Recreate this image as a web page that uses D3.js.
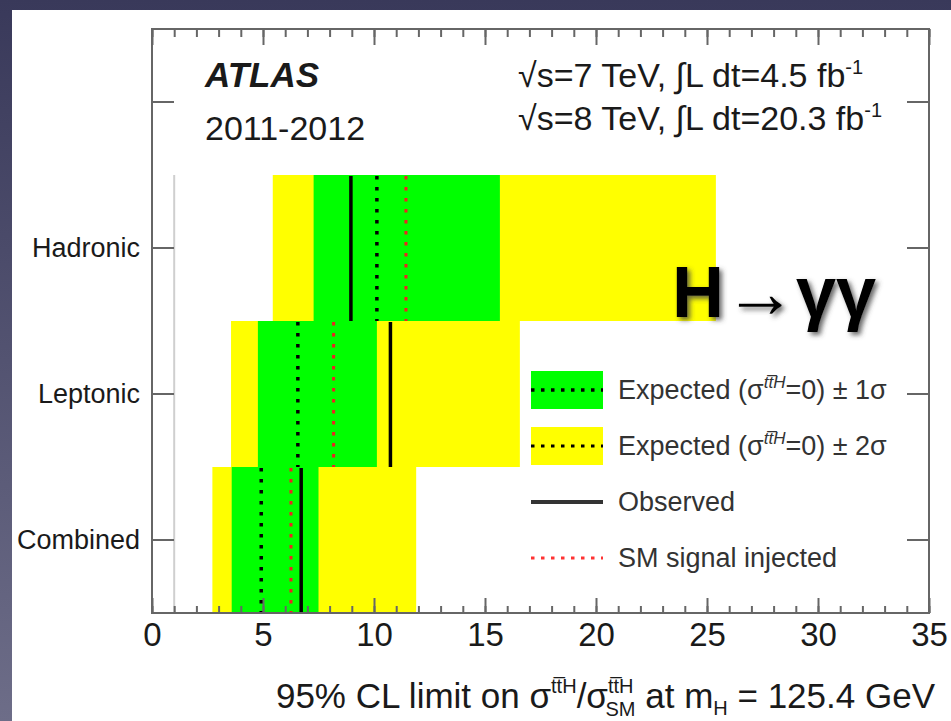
<!DOCTYPE html>
<meta charset="utf-8">
<style>
body { margin: 0; }
text { font-family: "Liberation Sans", Arial, Helvetica, sans-serif; fill: #1a1a1a; }
.frame { fill: none; stroke: #666; stroke-width: 2; }
.axis path { stroke: none; }
.axis line { stroke: #666; stroke-width: 2; }
.axis text { font-family: "Liberation Sans", Arial, sans-serif; fill: #1a1a1a; }
</style>
<script src="https://cdn.jsdelivr.net/npm/d3@7"></script>
<body>
<script>

// values
var categories = ["Hadronic", "Leptonic", "Combined"];
var observed   = [8.96, 10.74, 6.72];
var expected   = [10.13, 6.57, 4.92];
var smInjected = [11.44, 8.18, 6.26];
var minus2     = [5.44, 3.56, 2.72];
var minus1     = [7.28, 4.77, 3.59];
var plus1      = [15.67, 10.13, 7.50];
var plus2      = [25.4, 16.57, 11.9];
var xTicks = [0, 5, 10, 15, 20, 25, 30, 35];

var W = 951, H = 721;
var margin = {top: 29, right: 22, bottom: 108, left: 152},
    width = W - margin.left - margin.right,
    height = H - margin.top - margin.bottom;

var svg = d3.select("body").append("svg")
    .attr("width", W)
    .attr("height", H);

var defs = svg.append("defs");
var grad = defs.append("linearGradient").attr("id", "bg")
    .attr("x1", 0).attr("y1", 0).attr("x2", 0).attr("y2", 1);
grad.append("stop").attr("offset", "0%").attr("stop-color", "#39395a");
grad.append("stop").attr("offset", "100%").attr("stop-color", "#6d6d88");

var shadow = defs.append("filter").attr("id", "shadow")
    .attr("x", "-20%").attr("y", "-20%").attr("width", "150%").attr("height", "150%");
shadow.append("feDropShadow").attr("dx", 3).attr("dy", 3)
    .attr("stdDeviation", 2.5).attr("flood-color", "#444").attr("flood-opacity", 0.8);

svg.append("rect").attr("width", W).attr("height", H).attr("fill", "url(#bg)");
svg.append("rect").attr("x", 12).attr("y", 10).attr("width", W - 12).attr("height", H - 10)
    .attr("fill", "#fff");

var g = svg.append("g")
    .attr("transform", "translate(" + margin.left + "," + margin.top + ")");

var x = d3.scaleLinear().domain([0, 35]).range([0, width]);
// one empty slot on top for the labels
var y = d3.scaleBand().domain(["", "Hadronic", "Leptonic", "Combined"]).range([0, height]);

var rows = categories.map(function(c, i) {
  return {cat: c, obs: observed[i], exp: expected[i], sm: smInjected[i],
          m2: minus2[i], m1: minus1[i], p1: plus1[i], p2: plus2[i]};
});

// bands
g.selectAll(".b2").data(rows).enter().append("rect")
    .attr("x", function(d) { return x(d.m2); })
    .attr("y", function(d) { return y(d.cat); })
    .attr("width", function(d) { return x(d.p2) - x(d.m2); })
    .attr("height", y.bandwidth())
    .attr("fill", "#ffff00");

g.selectAll(".b1").data(rows).enter().append("rect")
    .attr("x", function(d) { return x(d.m1); })
    .attr("y", function(d) { return y(d.cat); })
    .attr("width", function(d) { return x(d.p1) - x(d.m1); })
    .attr("height", y.bandwidth())
    .attr("fill", "#00ff00");

// SM reference line at 1
g.append("line")
    .attr("x1", x(1)).attr("x2", x(1))
    .attr("y1", y("Hadronic")).attr("y2", height)
    .attr("stroke", "#cfcfcf").attr("stroke-width", 2);

function vlines(key, color, dash, w) {
  g.selectAll(".l-" + key).data(rows).enter().append("line")
      .attr("x1", function(d) { return x(d[key]); })
      .attr("x2", function(d) { return x(d[key]); })
      .attr("y1", function(d) { return y(d.cat) + 1; })
      .attr("y2", function(d) { return y(d.cat) + y.bandwidth(); })
      .attr("stroke", color)
      .attr("stroke-width", w)
      .attr("stroke-dasharray", dash);
}
vlines("exp", "#000", "3.5,7.5", 3.5);
vlines("sm", "#ee2222", "3.5,7.5", 3);
vlines("obs", "#000", null, 3.5);

// axes
var xMinor = d3.range(0, 36, 1);
g.append("g").attr("class", "axis")
    .attr("transform", "translate(0," + height + ")")
    .call(d3.axisBottom(x).tickValues(xMinor).tickSizeInner(-7).tickSizeOuter(0).tickFormat(""));
g.append("g").attr("class", "axis")
    .attr("transform", "translate(0," + height + ")")
    .call(d3.axisBottom(x).tickValues(xTicks).tickSizeInner(-15).tickSizeOuter(0).tickPadding(10))
    .selectAll("text").style("font-size", "33px");
g.append("g").attr("class", "axis")
    .call(d3.axisTop(x).tickValues(xMinor).tickSizeInner(-8).tickSizeOuter(0).tickFormat(""));
g.append("g").attr("class", "axis")
    .call(d3.axisTop(x).tickValues(xTicks).tickSizeInner(-16).tickSizeOuter(0).tickFormat(""));

g.append("g").attr("class", "axis")
    .call(d3.axisLeft(y).tickSizeInner(-22).tickSizeOuter(0).tickPadding(12))
    .selectAll("text").style("font-size", "27px").attr("dy", "0.35em");
g.append("g").attr("class", "axis")
    .attr("transform", "translate(" + width + ",0)")
    .call(d3.axisRight(y).tickSizeInner(-22).tickSizeOuter(0).tickFormat(""));

g.append("rect").attr("class", "frame").attr("width", width).attr("height", height);

// labels
g.append("text").attr("x", 53).attr("y", 58)
    .style("font-size", "35px").style("font-weight", "bold").style("font-style", "italic")
    .text("ATLAS");
g.append("text").attr("x", 53).attr("y", 111)
    .style("font-size", "34px").text("2011-2012");

function lumiLine(yy, sqs, lumi) {
  var t = g.append("text").attr("x", 366).attr("y", yy).style("font-size", "34px");
  t.append("tspan").text("\u221As=" + sqs + " TeV, \u222BL dt=" + lumi + " fb");
  t.append("tspan").attr("dy", -13).style("font-size", "20px").text("-1");
}
lumiLine(58, 7, "4.5");
lumiLine(101, 8, "20.3");

g.append("text").attr("x", 520).attr("y", 288)
    .attr("filter", "url(#shadow)")
    .style("font-size", "72px").style("font-weight", "bold").style("fill", "#000")
    .text("H\u2192\u03B3\u03B3");

// legend
var lg = svg.append("g").attr("transform", "translate(531,0)");
var legend = [
  {label: "1", box: "#00ff00", y: 390, line: "#000", dash: "3.5,6.5", w: 3.5},
  {label: "2", box: "#ffff00", y: 446, line: "#000", dash: "3.5,6.5", w: 3},
  {label: "Observed", box: null, y: 502, line: "#333", dash: null, w: 4},
  {label: "SM signal injected", box: null, y: 558, line: "#ff3333", dash: "3.5,6.5", w: 3}
];
legend.forEach(function(d) {
  if (d.box) {
    lg.append("rect").attr("x", 0).attr("y", d.y - 19).attr("width", 72).attr("height", 38)
        .attr("fill", d.box);
  }
  lg.append("line").attr("x1", 0).attr("x2", 72).attr("y1", d.y).attr("y2", d.y)
      .attr("stroke", d.line).attr("stroke-width", d.w).attr("stroke-dasharray", d.dash);
  var t = lg.append("text").attr("x", 87).attr("y", d.y + 9).style("font-size", "27px")
      .style("fill", "#333");
  if (d.box) {
    t.append("tspan").text("Expected (\u03C3");
    t.append("tspan").attr("dy", -11).style("font-size", "17px").style("font-style", "italic")
        .text("tt\u0305H");
    t.append("tspan").attr("dy", 11).text("=0) \u00B1 " + d.label + "\u03C3");
  } else {
    t.text(d.label);
  }
});

// x title
var xt = svg.append("text").attr("x", 935).attr("y", 708).attr("text-anchor", "end")
    .style("font-size", "35px");
xt.append("tspan").text("95% CL limit on \u03C3");
xt.append("tspan").attr("dy", -15).style("font-size", "20px").text("tt\u0305H");
xt.append("tspan").attr("dy", 15).text("/\u03C3");
xt.append("tspan").attr("dy", -15).style("font-size", "20px").text("tt\u0305H");
xt.append("tspan").attr("dx", -28).attr("dy", 23).style("font-size", "20px").text("SM");
xt.append("tspan").attr("dy", -8).text(" at m");
xt.append("tspan").attr("dy", 7).style("font-size", "20px").text("H");
xt.append("tspan").attr("dy", -7).text(" = 125.4 GeV");

</script>
</body>
